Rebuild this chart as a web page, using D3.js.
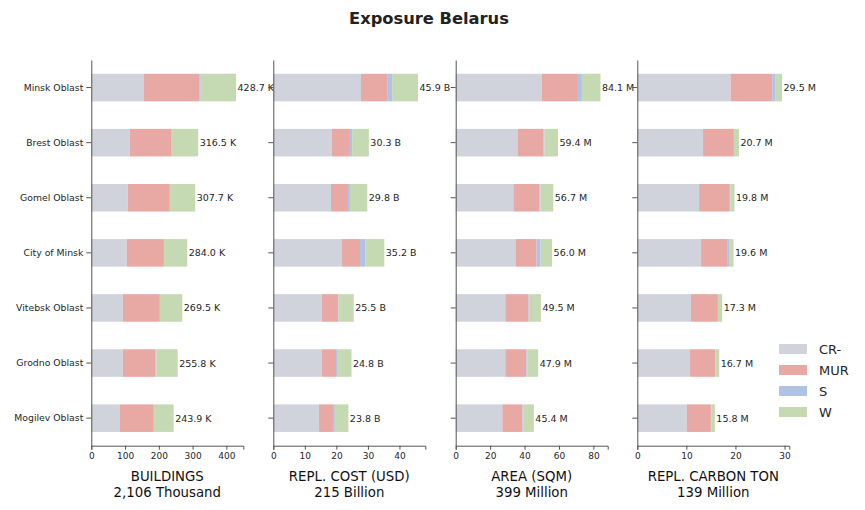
<!DOCTYPE html>
<html>
<head>
<meta charset="utf-8">
<script src="https://cdn.jsdelivr.net/npm/d3@7"></script>
<style>
  body { margin: 0; background: #fff; }
  svg text { font-family: "DejaVu Sans", sans-serif; }
</style>
</head>
<body>
<div id="chart"></div>
<script>
// chart size
var width = 865;
var height = 510;

// regions, top to bottom
var regions = ["Minsk Oblast", "Brest Oblast", "Gomel Oblast", "City of Minsk",
               "Vitebsk Oblast", "Grodno Oblast", "Mogilev Oblast"];

// building classes
var classes = ["CR-", "MUR", "S", "W"];
var colors = ["#d0d3db", "#e8a8a3", "#afc3e7", "#c5d9b2"];

// buildings, thousand
var bldCR  = [156, 114, 108, 105, 93.5, 93.5, 85];
var bldMUR = [165, 124, 124.5, 110, 109.5, 96.5, 100];
var bldS   = [3, 0.5, 0.5, 0.5, 0.5, 3, 0.5];
var bldW   = [104.7, 78, 74.7, 68.5, 66, 62.8, 58.4];

// replacement cost, billion USD
var costCR  = [27.8, 18.6, 18.3, 21.8, 15.4, 15.4, 14.5];
var costMUR = [8.3, 5.7, 5.4, 5.7, 5.1, 4.5, 4.4];
var costS   = [1.6, 0.7, 0.6, 1.6, 0.2, 0.3, 0.6];
var costW   = [8.2, 5.3, 5.5, 6.1, 4.8, 4.6, 4.3];

// area, million sqm
var areaCR  = [49.9, 35.9, 33.5, 34.7, 28.8, 28.8, 27.1];
var areaMUR = [21.1, 15.2, 15.2, 12.3, 13.5, 12.3, 11.7];
var areaS   = [2.3, 0.5, 0.6, 2.3, 0.4, 0.4, 0.4];
var areaW   = [10.8, 7.8, 7.4, 6.7, 6.8, 6.4, 6.2];

// replacement carbon, million ton
var carbCR  = [19.0, 13.4, 12.6, 13.0, 10.95, 10.75, 10.1];
var carbMUR = [8.5, 6.1, 6.1, 5.3, 5.3, 5.1, 4.9];
var carbS   = [0.6, 0.2, 0.3, 0.4, 0.2, 0.1, 0.1];
var carbW   = [1.4, 1.0, 0.8, 0.9, 0.85, 0.75, 0.7];

// total labels
var bldTotals  = ["428.7 K", "316.5 K", "307.7 K", "284.0 K", "269.5 K", "255.8 K", "243.9 K"];
var costTotals = ["45.9 B", "30.3 B", "29.8 B", "35.2 B", "25.5 B", "24.8 B", "23.8 B"];
var areaTotals = ["84.1 M", "59.4 M", "56.7 M", "56.0 M", "49.5 M", "47.9 M", "45.4 M"];
var carbTotals = ["29.5 M", "20.7 M", "19.8 M", "19.6 M", "17.3 M", "16.7 M", "15.8 M"];

// panel titles and ticks
var panelTitles = ["BUILDINGS", "REPL. COST (USD)", "AREA (SQM)", "REPL. CARBON TON"];
var panelSubs = ["2,106 Thousand", "215 Billion", "399 Million", "139 Million"];
var panelTicks = [[0, 100, 200, 300, 400], [0, 10, 20, 30, 40], [0, 20, 40, 60, 80], [0, 10, 20, 30]];

var panels = [
  {series: [bldCR, bldMUR, bldS, bldW], totals: bldTotals},
  {series: [costCR, costMUR, costS, costW], totals: costTotals},
  {series: [areaCR, areaMUR, areaS, areaW], totals: areaTotals},
  {series: [carbCR, carbMUR, carbS, carbW], totals: carbTotals}
];

var svg = d3.select("#chart")
  .append("svg")
  .attr("width", width)
  .attr("height", height);

// title
svg.append("text")
  .text("Exposure Belarus")
  .attr("x", 429)
  .attr("y", 24)
  .attr("text-anchor", "middle")
  .attr("font-size", 16.3)
  .attr("font-weight", "bold")
  .attr("fill", "#222");

var plotTop = 60, plotBottom = 445.7;
var panelW = 152;
var panelX = [91.3, 273.3, 455.7, 637.3];

var y = d3.scaleBand()
  .domain(regions)
  .range([plotTop, plotBottom])
  .paddingInner(0.5)
  .paddingOuter(0.25);

panels.forEach(function(p, k) {
  // build stacked rows
  var rows = regions.map(function(r, i) {
    var row = {region: r};
    classes.forEach(function(c, j) { row[c] = p.series[j][i]; });
    return row;
  });
  var stacked = d3.stack().keys(classes)(rows);
  var maxTotal = d3.max(stacked[stacked.length - 1], function(d) { return d[1]; });

  var x = d3.scaleLinear()
    .domain([0, maxTotal * 1.05])
    .range([0, panelW]);

  var g = svg.append("g")
    .attr("transform", "translate(" + panelX[k] + ",0)");

  g.selectAll("g.layer")
    .data(stacked)
    .enter()
    .append("g")
    .attr("class", "layer")
    .attr("fill", function(d, j) { return colors[j]; })
    .selectAll("rect")
    .data(function(d) { return d; })
    .enter()
    .append("rect")
    .attr("x", function(d) { return x(d[0]); })
    .attr("y", function(d) { return y(d.data.region); })
    .attr("width", function(d) { return x(d[1]) - x(d[0]); })
    .attr("height", y.bandwidth());

  // value labels
  g.selectAll("text.val")
    .data(stacked[stacked.length - 1])
    .enter()
    .append("text")
    .attr("class", "val")
    .text(function(d, i) { return p.totals[i]; })
    .attr("x", function(d) { return x(d[1]) + 1.5; })
    .attr("y", function(d) { return y(d.data.region) + y.bandwidth() / 2 + 3.5; })
    .attr("font-size", 9.5)
    .attr("fill", "#262626");

  // x axis
  var xAxis = g.append("g")
    .attr("transform", "translate(0," + plotBottom + ")")
    .call(d3.axisBottom(x).tickValues(panelTicks[k]).tickSize(4).tickPadding(3));
  xAxis.select(".domain").attr("stroke", "#555");
  xAxis.selectAll(".tick line").attr("stroke", "#555");
  xAxis.selectAll("text")
    .attr("font-size", 9)
    .attr("font-family", "DejaVu Sans")
    .attr("fill", "#262626");

  // y axis
  var yAxis = g.append("g")
    .call(d3.axisLeft(y).tickSize(5).tickSizeOuter(0).tickPadding(3));
  yAxis.select(".domain").attr("stroke", "#555");
  yAxis.selectAll(".tick line").attr("stroke", "#555");
  yAxis.selectAll("text")
    .attr("font-size", 9.3)
    .attr("font-family", "DejaVu Sans")
    .attr("fill", "#262626");
  if (k > 0) yAxis.selectAll("text").remove();

  // panel labels
  g.append("text")
    .text(panelTitles[k])
    .attr("x", panelW / 2)
    .attr("y", 481)
    .attr("text-anchor", "middle")
    .attr("font-size", 13.3)
    .attr("fill", "#111");
  g.append("text")
    .text(panelSubs[k])
    .attr("x", panelW / 2)
    .attr("y", 497)
    .attr("text-anchor", "middle")
    .attr("font-size", 13.3)
    .attr("fill", "#111");
});

// legend
var legend = svg.selectAll("g.legend")
  .data(classes)
  .enter()
  .append("g")
  .attr("class", "legend")
  .attr("transform", function(d, i) { return "translate(779," + (344 + i * 21) + ")"; });

legend.append("rect")
  .attr("width", 28)
  .attr("height", 10)
  .attr("fill", function(d, i) { return colors[i]; });

legend.append("text")
  .text(function(d) { return d; })
  .attr("x", 40)
  .attr("y", 10)
  .attr("font-size", 13)
  .attr("fill", "#262626");
</script>
</body>
</html>
